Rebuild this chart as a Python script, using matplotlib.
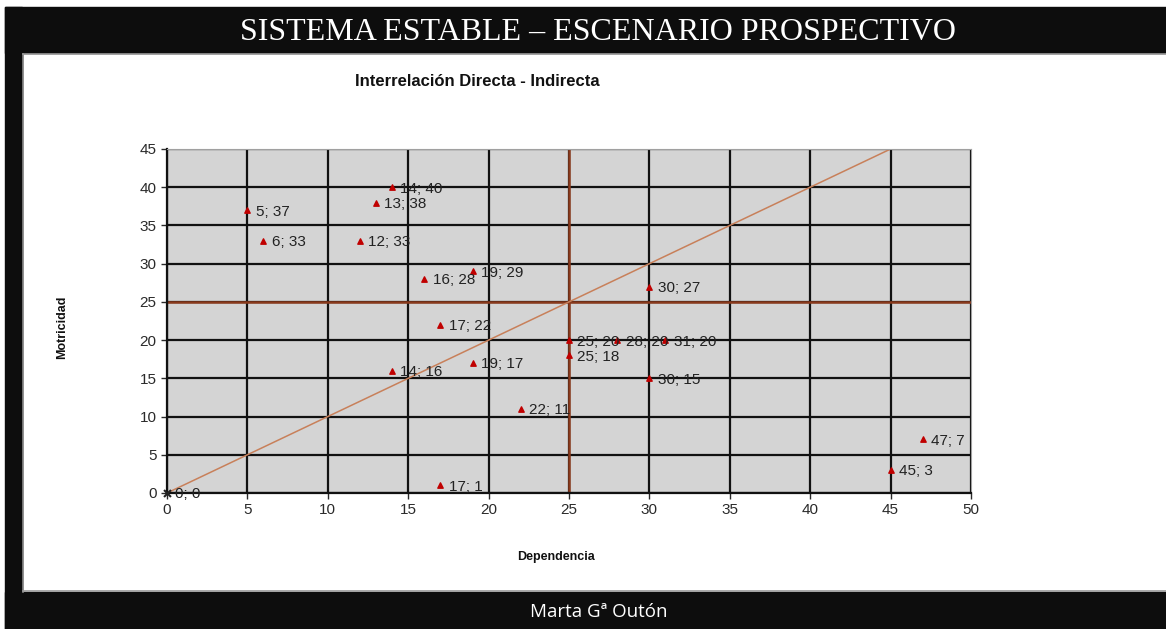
import matplotlib.pyplot as plt
from matplotlib.patches import Rectangle
from matplotlib.lines import Line2D

plt.rcParams['font.family'] = ['Liberation Sans', 'DejaVu Sans']

# dependencia (x) / motricidad (y)
dep = [5, 6, 12, 13, 14, 16, 19, 17, 14, 19, 25, 28, 31, 25, 30, 30, 22, 17, 45, 47]
mot = [37, 33, 33, 38, 40, 28, 29, 22, 16, 17, 20, 20, 20, 18, 27, 15, 11, 1, 3, 7]
origin = (0, 0)
ticks_x = list(range(0, 51, 5))
ticks_y = list(range(0, 46, 5))

W, H = 1166, 629
fig = plt.figure(figsize=(W / 100, H / 100), dpi=100, facecolor='white')

def px(x0, y0, x1, y1, **kw):
    # rectangle from pixel coords (top-left origin)
    fig.patches.append(Rectangle((x0 / W, 1 - y1 / H), (x1 - x0) / W, (y1 - y0) / H,
                                 transform=fig.transFigure, **kw))

black = '#0d0d0d'
px(5, 7, W, 53, color=black, zorder=0)
px(5, 7, 22, H, color=black, zorder=0)
px(5, 592, W, H, color=black, zorder=0)
# thin grey edge of the white panel
fig.lines.append(Line2D([23 / W, 23 / W], [1 - 592 / H, 1 - 54 / H], transform=fig.transFigure,
                        color='#888888', lw=1.2))
fig.lines.append(Line2D([23 / W, 1], [1 - 54 / H, 1 - 54 / H], transform=fig.transFigure,
                        color='#999999', lw=1.2))
fig.lines.append(Line2D([23 / W, 1], [1 - 591 / H, 1 - 591 / H], transform=fig.transFigure,
                        color='#999999', lw=1.2))

fig.text(598 / W, 1 - 33 / H, 'SISTEMA ESTABLE – ESCENARIO PROSPECTIVO', color='white',
         family='Liberation Serif', fontsize=23, ha='center', va='center')
fig.text(599 / W, 1 - 612 / H, 'Marta Gª Outón', color='white', family='Open Sans',
         fontsize=13.5, ha='center', va='center')

ax = fig.add_axes([167 / W, 1 - 493 / H, (971 - 167) / W, (493 - 149) / H])
ax.set_facecolor('#d4d4d4')
ax.set_xlim(0, 50)
ax.set_ylim(0, 45)
ax.set_xticks(ticks_x)
ax.set_yticks(ticks_y)
ax.grid(True, color='#111111', lw=1.6, zorder=1)
ax.set_axisbelow(True)
for s in ['top', 'right']:
    ax.spines[s].set_color('#a0a0a0')
    ax.spines[s].set_linewidth(0.8)
for s in ['left', 'bottom']:
    ax.spines[s].set_color('#111111')
    ax.spines[s].set_linewidth(1.6)
ax.tick_params(colors='#2a2a2a', labelsize=11, length=4, width=1)

# quadrant lines and diagonal
ax.axvline(25, color='#8a3a1c', lw=1.8, zorder=2)
ax.axhline(25, color='#8a3a1c', lw=1.8, zorder=2)
ax.plot([0, 45], [0, 45], color='#c8805a', lw=1.1, zorder=2)

ax.scatter(dep, mot, marker='^', s=15, color='#c00000', zorder=4)
ax.scatter([origin[0]], [origin[1]], marker='x', s=25, color='#222222', lw=1.5, zorder=4,
           clip_on=False)
for x, y in zip(dep + [origin[0]], mot + [origin[1]]):
    ax.annotate(f'{x}; {y}', (x, y), xytext=(6, -1), textcoords='offset points',
                va='center', ha='left', fontsize=11, color='#222222', zorder=5,
                annotation_clip=False)

fig.text(477 / W, 1 - 82 / H, 'Interrelación Directa - Indirecta', fontsize=12,
         fontweight='bold', ha='center', va='center', color='#111111')
fig.text(556 / W, 1 - 557 / H, 'Dependencia', fontsize=9, fontweight='bold',
         ha='center', va='center', color='#111111')
fig.text(62 / W, 1 - 327 / H, 'Motricidad', fontsize=9, fontweight='bold',
         ha='center', va='center', rotation=90, color='#111111')

fig.savefig('out.png', dpi=100, facecolor=fig.get_facecolor())
